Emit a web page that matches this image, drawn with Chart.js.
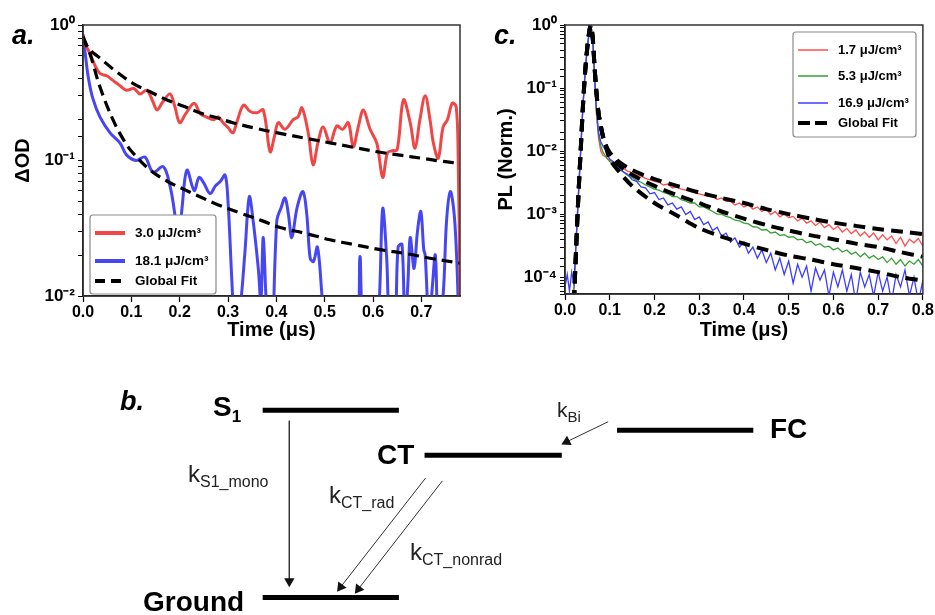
<!DOCTYPE html>
<html>
<head>
<meta charset="utf-8">
<script src="https://cdn.jsdelivr.net/npm/chart.js@4.4.1/dist/chart.umd.min.js"></script>
<style>
html,body{margin:0;padding:0;background:#fff;}
body{width:935px;height:615px;position:relative;overflow:hidden;font-family:"Liberation Sans",Arial,sans-serif;}
.box{position:absolute;}
.lbl{position:absolute;white-space:nowrap;line-height:1;color:#000;}
.pan{font-weight:bold;font-style:italic;font-size:27px;}
.lvl{font-weight:bold;font-size:28px;}
.lvl sub{font-size:17px;vertical-align:baseline;position:relative;top:6px;}
.k{font-size:24px;color:#222;}
.k sub{font-size:16px;vertical-align:baseline;position:relative;top:5px;}
.k.kb{font-size:21px;}
.k.kb sub{font-size:15px;}
</style>
</head>
<body>
<div class="box" style="left:0;top:0"><canvas id="ca" width="475" height="345"></canvas></div>
<div class="box" style="left:480px;top:0"><canvas id="cc" width="455" height="345"></canvas></div>
<div class="box" style="left:0;top:345px"><canvas id="cb" width="935" height="270"></canvas></div>

<div class="lbl pan" style="left:12px;top:22px">a.</div>
<div class="lbl pan" style="left:494px;top:22px">c.</div>
<div class="lbl pan" style="left:120px;top:388px">b.</div>
<div class="lbl lvl" style="left:213px;top:393px">S<sub>1</sub></div>
<div class="lbl lvl" style="left:377px;top:441px">CT</div>
<div class="lbl lvl" style="left:770px;top:415px">FC</div>
<div class="lbl lvl" style="left:143px;top:588px">Ground</div>
<div class="lbl k" style="left:188px;top:462px">k<sub>S1_mono</sub></div>
<div class="lbl k" style="left:329px;top:483px">k<sub>CT_rad</sub></div>
<div class="lbl k" style="left:410px;top:540px">k<sub>CT_nonrad</sub></div>
<div class="lbl k kb" style="left:557px;top:399px">k<sub>Bi</sub></div>

<script>
// ---- panel a: transient absorption (ΔOD) ----
const redAT = [0,0.005,0.014,0.025,0.035,0.05,0.062,0.075,0.09,0.105,0.118,0.132,0.145,0.153,0.165,0.18,0.19,0.2,0.212,0.23,0.243,0.255,0.27,0.28,0.29,0.3,0.31,0.318,0.332,0.346,0.36,0.373,0.387,0.396,0.404,0.418,0.435,0.445,0.453,0.466,0.476,0.487,0.497,0.511,0.525,0.537,0.549,0.559,0.57,0.58,0.594,0.608,0.62,0.63,0.64,0.65,0.663,0.677,0.687,0.697,0.708,0.718,0.725,0.735,0.745,0.754,0.764,0.772,0.776,0.78];
const redAV = [0.85,0.72,0.62,0.5,0.44,0.42,0.39,0.36,0.33,0.34,0.31,0.33,0.27,0.236,0.27,0.31,0.25,0.19,0.22,0.265,0.22,0.21,0.2,0.21,0.19,0.175,0.16,0.19,0.256,0.23,0.225,0.236,0.116,0.15,0.19,0.17,0.2,0.21,0.245,0.16,0.093,0.14,0.177,0.135,0.18,0.17,0.19,0.126,0.18,0.236,0.17,0.134,0.075,0.114,0.118,0.12,0.28,0.19,0.123,0.2,0.3,0.2,0.134,0.104,0.177,0.2,0.265,0.25,0.12,0.01];

const blueAT = [0,0.005,0.011,0.02,0.035,0.056,0.077,0.09,0.11,0.128,0.145,0.166,0.18,0.19,0.197,0.205,0.215,0.23,0.24,0.25,0.263,0.274,0.284,0.294,0.3,0.308,0.315,0.325,0.335,0.344,0.352,0.363,0.368,0.373,0.38,0.39,0.401,0.41,0.418,0.425,0.432,0.443,0.455,0.463,0.47,0.477,0.485,0.494,0.5,0.53,0.565,0.573,0.58,0.6,0.612,0.62,0.628,0.635,0.645,0.652,0.66,0.666,0.672,0.677,0.685,0.692,0.699,0.705,0.708,0.716,0.723,0.729,0.735,0.745,0.752,0.76,0.768,0.774,0.778];
const blueAV = [0.85,0.6,0.41,0.29,0.21,0.16,0.134,0.11,0.1,0.106,0.082,0.09,0.065,0.04,0.023,0.045,0.085,0.06,0.075,0.068,0.057,0.065,0.07,0.078,0.05,0.013,0.005,0.008,0.021,0.054,0.036,0.0155,0.009,0.027,0.008,0.004,0.036,0.045,0.053,0.04,0.027,0.045,0.059,0.04,0.019,0.018,0.023,0.0105,0.005,0.003,0.005,0.0195,0.006,0.004,0.008,0.044,0.02,0.006,0.006,0.023,0.024,0.006,0.012,0.027,0.016,0.03,0.042,0.022,0.02,0.006,0.012,0.02,0.006,0.01,0.035,0.059,0.04,0.016,0.005];

const fitA1T = [0,0.01,0.035,0.07,0.104,0.14,0.174,0.21,0.243,0.28,0.31,0.36,0.41,0.46,0.511,0.56,0.615,0.66,0.7,0.74,0.78];
const fitA1V = [0.82,0.68,0.57,0.45,0.37,0.32,0.28,0.25,0.224,0.205,0.19,0.172,0.158,0.146,0.135,0.125,0.115,0.109,0.104,0.099,0.095];
const fitA2T = [0,0.014,0.035,0.062,0.085,0.104,0.139,0.175,0.21,0.242,0.28,0.325,0.37,0.408,0.46,0.511,0.56,0.615,0.67,0.718,0.78];
const fitA2V = [0.82,0.62,0.35,0.2,0.14,0.113,0.085,0.07,0.061,0.054,0.047,0.041,0.036,0.032,0.029,0.026,0.024,0.022,0.0205,0.019,0.0175];

// ---- panel c: PL decays ----
const tC = [0,0.005,0.01,0.015,0.02,0.025,0.03,0.035,0.04,0.045,0.05,0.055,0.058,0.062,0.066,0.07,0.075,0.08,0.085,0.09,0.095,0.1,
  0.11,0.12,0.13,0.14,0.15,0.16,0.17,0.18,0.19,0.2,
  0.21,0.22,0.23,0.24,0.25,0.26,0.27,0.28,0.29,0.3,
  0.31,0.32,0.33,0.34,0.35,0.36,0.37,0.38,0.39,0.4,
  0.41,0.42,0.43,0.44,0.45,0.46,0.47,0.48,0.49,0.5,
  0.51,0.52,0.53,0.54,0.55,0.56,0.57,0.58,0.59,0.6,
  0.61,0.62,0.63,0.64,0.65,0.66,0.67,0.68,0.69,0.7,
  0.71,0.72,0.73,0.74,0.75,0.76,0.77,0.78,0.79,0.8];
const redC = [4e-5,5e-5,4e-5,5e-5,7e-5,0.0004,0.002,0.01,0.05,0.18,0.45,0.85,1.0,0.6,0.15,0.04,0.016,0.01,0.0085,0.0082,0.0075,0.0072,
  0.0066,0.0057,0.0053,0.0048,0.0045,0.0042,0.004,0.0037,0.0035,0.0033,
  0.0032,0.0029,0.003,0.0026,0.0027,0.0025,0.0024,0.0023,0.0022,0.0021,
  0.0020,0.0019,0.0020,0.0017,0.0018,0.0016,0.0016,0.0014,0.0015,0.0013,
  0.0014,0.0012,0.0013,0.0011,0.0012,0.00098,0.0011,0.0009,0.001,0.00088,
  0.00092,0.00078,0.00086,0.00072,0.00078,0.00066,0.00074,0.00061,0.00068,0.00057,
  0.00064,0.00052,0.00059,0.00049,0.00056,0.00045,0.00052,0.00043,0.0005,0.00039,
  0.00047,0.00039,0.00045,0.00034,0.00043,0.00031,0.0004,0.00035,0.00041,0.00031];
const greenC = [5e-5,4e-5,5e-5,4e-5,6e-5,0.0004,0.002,0.01,0.05,0.18,0.45,0.85,1.0,0.6,0.16,0.045,0.018,0.012,0.0095,0.0085,0.0075,0.0068,
  0.006,0.0052,0.0047,0.0041,0.0038,0.0034,0.0032,0.0029,0.0027,0.0025,
  0.0024,0.0022,0.0021,0.0019,0.0019,0.0017,0.0016,0.0015,0.0015,0.0013,
  0.0013,0.0012,0.0011,0.001,0.001,0.00092,0.00088,0.0008,0.00078,0.00072,
  0.0007,0.00063,0.00062,0.00056,0.00057,0.0005,0.00052,0.00046,0.00047,0.00043,
  0.00044,0.00039,0.0004,0.00035,0.00037,0.00032,0.00034,0.0003,0.00031,0.00027,
  0.00029,0.00025,0.00027,0.00023,0.00025,0.00021,0.00024,0.0002,0.00022,0.00019,
  0.00021,0.00017,0.0002,0.00016,0.00019,0.00015,0.00018,0.00016,0.00019,0.00015];
const blueC = [7e-5,1.1e-4,6e-5,1.2e-4,8e-5,0.0004,0.002,0.01,0.05,0.18,0.45,0.85,1.0,0.6,0.17,0.05,0.02,0.014,0.012,0.0105,0.0085,0.0075,
  0.0066,0.0056,0.0047,0.0043,0.0035,0.0033,0.0027,0.0026,0.0021,0.0022,
  0.0017,0.0018,0.0014,0.0015,0.0012,0.0013,0.00098,0.0011,0.00082,0.0009,
  0.00068,0.00075,0.00055,0.00062,0.00045,0.0005,0.00036,0.00042,0.0003,0.00036,
  0.00024,0.0003,0.0002,0.00027,0.00017,0.00024,0.00013,0.0002,0.00011,0.00018,
  0.00008,0.00016,0.0001,0.00015,0.00006,0.00014,0.00009,0.00013,0.00005,0.00012,
  0.00007,0.00013,0.00006,0.00011,0.00004,0.00012,0.00007,0.00011,0.00005,0.00012,
  0.00006,0.0001,0.00004,0.00011,0.00007,0.00013,0.00005,0.0001,0.00004,0.00009];

const tFitC = [0.02,0.025,0.03,0.035,0.04,0.045,0.05,0.055,0.058,0.062,0.066,0.07,0.075,0.08,0.085,0.09,
  0.1,0.12,0.15,0.2,0.25,0.3,0.35,0.4,0.45,0.5,0.55,0.6,0.65,0.7,0.75,0.8];
const fitRiseC = [4e-5,0.0003,0.002,0.01,0.05,0.18,0.45,0.85,1.0,0.62,0.22,0.09,0.04,0.025,0.017,0.013];
const fitRedTailC = [0.0095,0.0068,0.005,0.0036,0.0028,0.0022,0.0018,0.0015,0.0012,0.001,0.00085,0.00073,0.00065,0.00058,0.00053,0.00048];
const fitGreenTailC = [0.0088,0.006,0.0042,0.0028,0.002,0.0015,0.0011,0.00085,0.00067,0.00055,0.00046,0.0004,0.00034,0.0003,0.00025,0.00021];
const fitBlueTailC = [0.0075,0.0048,0.0028,0.0015,0.00095,0.0006,0.00044,0.00034,0.00027,0.00022,0.00019,0.00016,0.00014,0.00012,0.0001,0.000088];

// ---- panel b: state diagram (page-like units) ----
const levelNames = ["S1","CT","FC","Ground"];
const levelX0 = [260,424,619,260];
const levelX1 = [398,563,757,398];
const levelY  = [407,454,428,603];
const arrowNames = ["kS1_mono","kCT_rad","kCT_nonrad","kBi"];
const arrowX0 = [287,425,442,610];
const arrowY0 = [418,478,481,419];
const arrowX1 = [287,339,357,568];
const arrowY1 = [586,592,594,440];

Chart.defaults.font.family = '"Liberation Sans", Arial, sans-serif';
Chart.defaults.color = '#000';

const pts = (xs, ys) => xs.map((x, i) => ({x, y: ys[i]}));
const SUP = {'-':'⁻','0':'⁰','1':'¹','2':'²','3':'³','4':'⁴','5':'⁵'};
function decadeLabel(v){
  const e = Math.log10(v);
  if (Math.abs(e - Math.round(e)) > 1e-6) return '';
  return '10' + String(Math.round(e)).split('').map(c => SUP[c]).join('');
}

const frame = {
  id: 'frame',
  afterDatasetsDraw(chart){
    const {ctx, chartArea: a} = chart;
    ctx.save();
    ctx.strokeStyle = '#333';
    ctx.lineWidth = 1.5;
    ctx.strokeRect(a.left, a.top, a.right - a.left, a.bottom - a.top);
    ctx.restore();
  }
};

const boxLegend = {
  id: 'boxLegend',
  afterDraw(chart, args, o){
    if (!o.rows) return;
    const {ctx, chartArea: a} = chart;
    ctx.save();
    ctx.fillStyle = '#fff';
    ctx.strokeStyle = '#8a8a8a';
    ctx.lineWidth = 1.2;
    ctx.beginPath();
    ctx.roundRect(a.left + o.x, a.top + o.y, o.w, o.h, 3);
    ctx.fill(); ctx.stroke();
    o.rows.forEach(r => {
      const ds = chart.data.datasets[r.ds];
      const ly = a.top + r.y;
      ctx.strokeStyle = ds.borderColor;
      ctx.lineWidth = r.lw || ds.borderWidth;
      ctx.setLineDash(r.dash || []);
      ctx.beginPath();
      ctx.moveTo(a.left + o.lx0, ly);
      ctx.lineTo(a.left + o.lx1, ly);
      ctx.stroke();
      ctx.setLineDash([]);
      ctx.fillStyle = '#000';
      ctx.font = o.font;
      ctx.textBaseline = 'middle';
      ctx.fillText(ds.label, a.left + o.tx, ly);
    });
    ctx.restore();
  }
};

function axisX(min, max, h, title){
  return {
    type: 'linear', min, max,
    afterFit: s => { s.height = h; },
    border: {color: '#000', width: 1.5},
    grid: {drawOnChartArea: false, tickLength: 6, color: '#000', tickWidth: 1.2},
    ticks: {stepSize: 0.1, includeBounds: false, maxRotation: 0, padding: 1,
      font: {size: 16, weight: 'bold'}, callback: v => Number(v).toFixed(1)},
    title: {display: true, text: title, font: {size: 20, weight: 'bold'}, padding: {top: 0, bottom: 3}}
  };
}
function axisY(min, max, w, title, tpad){
  return {
    type: 'logarithmic', min, max,
    afterFit: s => { s.width = w; },
    border: {color: '#000', width: 1.5},
    grid: {drawOnChartArea: false, tickLength: 5, color: '#000', tickWidth: 1},
    ticks: {autoSkip: false, padding: 3, font: {size: 17, weight: 'bold'}, callback: decadeLabel},
    title: {display: true, text: title, font: {size: 20, weight: 'bold'}, padding: {top: tpad, bottom: 0}}
  };
}

// panel a
new Chart(document.getElementById('ca'), {
  type: 'line',
  data: {datasets: [
    {label: 'Global Fit', data: pts(fitA1T, fitA1V), borderColor: '#000', borderWidth: 3.2, borderDash: [11, 6], pointRadius: 0, tension: 0.4},
    {label: 'Global Fit', data: pts(fitA2T, fitA2V), borderColor: '#000', borderWidth: 3.2, borderDash: [11, 6], pointRadius: 0, tension: 0.4},
    {label: '3.0 μJ/cm³', data: pts(redAT, redAV), borderColor: '#f04646', borderWidth: 3, pointRadius: 0, tension: 0.35},
    {label: '18.1 μJ/cm³', data: pts(blueAT, blueAV), borderColor: '#4646f2', borderWidth: 3, pointRadius: 0, tension: 0.35}
  ]},
  options: {
    responsive: false, animation: false,
    layout: {padding: {top: 25, right: 15, left: 0, bottom: 0}},
    plugins: {
      legend: {display: false}, tooltip: {enabled: false},
      boxLegend: {x: 7, y: 190, w: 126, h: 79, lx0: 12, lx1: 42, tx: 52, font: 'bold 13.5px "Liberation Sans", Arial',
        rows: [{ds: 2, y: 208, lw: 4}, {ds: 3, y: 236, lw: 4}, {ds: 0, y: 256, lw: 4, dash: [10, 6]}]}
    },
    scales: {x: axisX(0, 0.78, 49, 'Time (μs)'), y: axisY(0.01, 1, 83, 'ΔOD', 11)}
  },
  plugins: [frame, boxLegend]
});

// panel c
new Chart(document.getElementById('cc'), {
  type: 'line',
  data: {datasets: [
    {label: 'Global Fit', data: pts(tFitC, fitRiseC.concat(fitRedTailC)), borderColor: '#000', borderWidth: 4, borderDash: [12, 7], pointRadius: 0, tension: 0.3},
    {label: 'Global Fit', data: pts(tFitC, fitRiseC.concat(fitGreenTailC)), borderColor: '#000', borderWidth: 4, borderDash: [12, 7], pointRadius: 0, tension: 0.3},
    {label: 'Global Fit', data: pts(tFitC, fitRiseC.concat(fitBlueTailC)), borderColor: '#000', borderWidth: 4, borderDash: [12, 7], pointRadius: 0, tension: 0.3},
    {label: '16.9 μJ/cm³', data: pts(tC, blueC), borderColor: '#3c3cff', borderWidth: 1.3, pointRadius: 0, tension: 0},
    {label: '5.3 μJ/cm³', data: pts(tC, greenC), borderColor: '#35a035', borderWidth: 1.3, pointRadius: 0, tension: 0},
    {label: '1.7 μJ/cm³', data: pts(tC, redC), borderColor: '#ff4f4f', borderWidth: 1.3, pointRadius: 0, tension: 0}
  ]},
  options: {
    responsive: false, animation: false,
    layout: {padding: {top: 25, right: 12, left: 0, bottom: 0}},
    plugins: {
      legend: {display: false}, tooltip: {enabled: false},
      boxLegend: {x: 228, y: 7, w: 123, h: 105, lx0: 233, lx1: 263, tx: 273, font: 'bold 13px "Liberation Sans", Arial',
        rows: [{ds: 5, y: 25, lw: 1.5}, {ds: 4, y: 51, lw: 1.5}, {ds: 3, y: 78, lw: 1.5}, {ds: 0, y: 98, lw: 4, dash: [12, 5]}]}
    },
    scales: {x: axisX(0, 0.8, 51, 'Time (μs)'), y: axisY(5.4e-5, 1, 85, 'PL (Norm.)', 14)}
  },
  plugins: [frame, boxLegend]
});

// panel b
const diagramSets = [];
levelNames.forEach((n, i) => {
  diagramSets.push({label: n, data: [{x: levelX0[i], y: levelY[i]}, {x: levelX1[i], y: levelY[i]}],
    borderColor: '#000', borderWidth: 5, borderCapStyle: 'butt', pointRadius: 0});
});
arrowNames.forEach((n, i) => {
  const dx = arrowX1[i] - arrowX0[i], dy = arrowY1[i] - arrowY0[i];
  const rot = Math.atan2(dx, -dy) * 180 / Math.PI;
  diagramSets.push({label: n, data: [{x: arrowX0[i], y: arrowY0[i]}, {x: arrowX1[i], y: arrowY1[i]}],
    borderColor: '#333', borderWidth: 1, pointRadius: [0, 6], pointStyle: 'triangle',
    pointRotation: [0, rot], pointBackgroundColor: '#111', pointBorderColor: '#111', pointBorderWidth: 0});
});
new Chart(document.getElementById('cb'), {
  type: 'line',
  data: {datasets: diagramSets},
  options: {
    responsive: false, animation: false,
    layout: {padding: 0},
    plugins: {legend: {display: false}, tooltip: {enabled: false}},
    scales: {
      x: {type: 'linear', display: false, min: 0, max: 935},
      y: {type: 'linear', display: false, min: 345, max: 615, reverse: true}
    }
  }
});
</script>
</body>
</html>
